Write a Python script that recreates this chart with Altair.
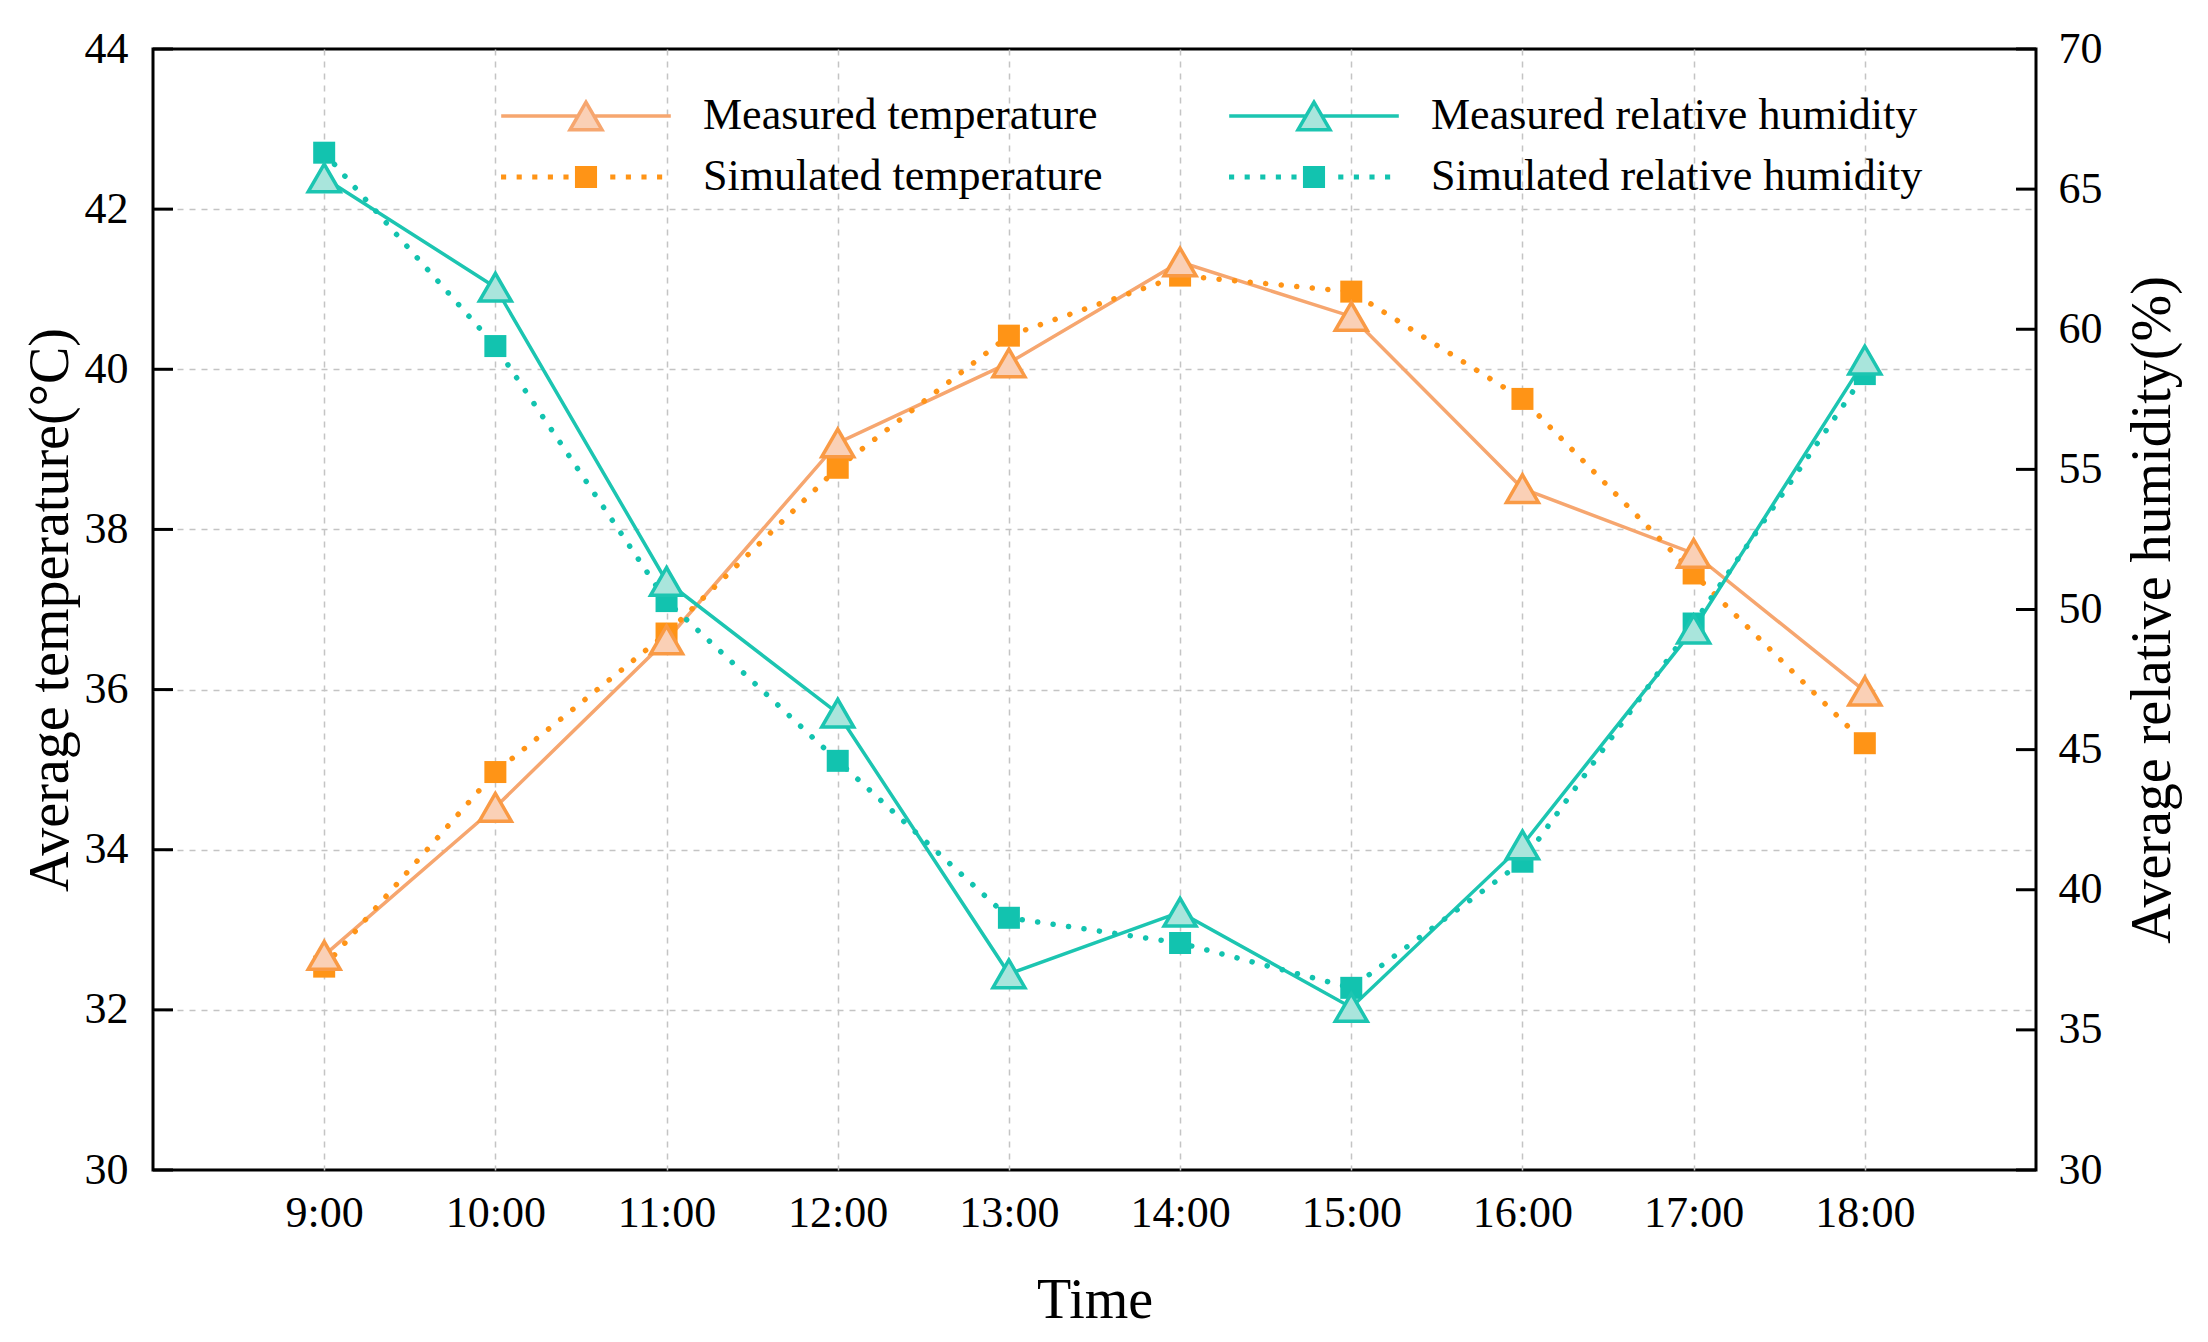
import altair as alt
import pandas as pd

# ---------------- data ----------------
hours = [9, 10, 11, 12, 13, 14, 15, 16, 17, 18]
measured_temperature = [32.68, 34.53, 36.62, 39.08, 40.08, 41.34, 40.66, 38.51, 37.70, 35.98]
simulated_temperature = [32.54, 34.97, 36.70, 38.77, 40.42, 41.17, 40.97, 39.63, 37.45, 35.33]
measured_humidity = [65.4, 61.5, 51.0, 46.3, 37.0, 39.2, 35.8, 41.6, 49.3, 58.9]
simulated_humidity = [66.3, 59.4, 50.3, 44.6, 39.0, 38.1, 36.5, 41.0, 49.5, 58.4]
series_names = ["Measured temperature", "Simulated temperature",
                "Measured relative humidity", "Simulated relative humidity"]
temp_ticks = [30, 32, 34, 36, 38, 40, 42, 44]
hum_ticks = [30, 35, 40, 45, 50, 55, 60, 65, 70]

# ---------------- style ----------------
W, H = 1883, 1121
FONT = "Liberation Serif"
MT_LINE = "#F6A66F"
MT_STROKE = "#F99A45"
MT_FILL = "#FAD0B6"
ST = "#FF9416"
MH = "#1CC5B1"
MH_FILL = "#A9E5DC"
SH = "#12C3AF"
GRID = "#c4c4c4"

df_mt = pd.DataFrame({"hour": hours, "value": measured_temperature})
df_st = pd.DataFrame({"hour": hours, "value": simulated_temperature})
df_mh = pd.DataFrame({"hour": hours, "value": measured_humidity})
df_sh = pd.DataFrame({"hour": hours, "value": simulated_humidity})
df_tt = pd.DataFrame({"value": temp_ticks})
df_ht = pd.DataFrame({"value": hum_ticks})
df_leg = pd.DataFrame({"series": series_names})

x_enc = alt.X(
    "hour:Q",
    scale=alt.Scale(domain=[8, 19], nice=False, zero=False),
    axis=alt.Axis(
        values=hours, labelExpr="datum.value + ':00'", title="Time",
        grid=True, gridColor=GRID, gridDash=[6, 6], gridWidth=1.5,
        ticks=False, tickSize=0, domain=False, labelOverlap=False,
        labelFont=FONT, labelFontSize=44, labelColor="black", labelPadding=21,
        titleFont=FONT, titleFontSize=56, titleFontWeight="normal", titleColor="black",
        titleY=130, titleBaseline="middle",
    ),
)

y_temp = alt.Y(
    "value:Q",
    scale=alt.Scale(domain=[30, 44], nice=False, zero=False),
    axis=alt.Axis(
        values=temp_ticks, orient="left", title="Average temperature(°C)",
        grid=True,
        gridColor={"condition": {"test": "datum.value == 30 || datum.value == 44",
                                 "value": "transparent"}, "value": GRID},
        gridDash=[6, 6], gridWidth=1.5,
        ticks=False, tickSize=0, domain=False, labelOverlap=False,
        labelFont=FONT, labelFontSize=44, labelColor="black", labelPadding=25,
        titleFont=FONT, titleFontSize=56, titleFontWeight="normal", titleColor="black",
        titleAngle=270, titleX=-103, titleBaseline="middle", titleAlign="center",
    ),
)

y_hum = alt.Y(
    "value:Q",
    scale=alt.Scale(domain=[30, 70], nice=False, zero=False),
    axis=alt.Axis(
        values=hum_ticks, orient="right", title="Average relative humidity(%)",
        grid=False, ticks=False, tickSize=0, domain=False, labelOverlap=False,
        labelFont=FONT, labelFontSize=44, labelColor="black", labelPadding=22,
        titleFont=FONT, titleFontSize=56, titleFontWeight="normal", titleColor="black",
        titleAngle=270, titleX=116, titleBaseline="middle", titleAlign="center",
    ),
)

# legend symbols: line + marker drawn as one custom path (unit = 16 px)
tri_path = "M-5.3,0H-0.5M0.5,0H5.3M0,-0.866L-1,0.866L1,0.866Z"
dots = ""
for k in range(11):
    cx = -5.15 + k * 0.975
    if abs(cx) < 1.0:
        continue
    dots += f"M{cx - 0.16:.3f},-0.16h0.32v0.32h-0.32Z"
sq_path = dots + "M-0.69,-0.69H0.69V0.69H-0.69Z"

legend = alt.Legend(
    title=None, orient="none", legendX=411, legendY=45, columns=2,
    columnPadding=119, rowPadding=17, symbolSize=1024, symbolStrokeWidth=3.5,
    labelFont=FONT, labelFontSize=44, labelColor="black", labelOffset=95,
    labelLimit=0, padding=0,
)

legend_layer = alt.Chart(df_leg).transform_filter("false").mark_point(
    filled=True, opacity=1
).encode(
    shape=alt.Shape("series:N", scale=alt.Scale(domain=series_names,
                    range=[tri_path, sq_path, tri_path, sq_path]), legend=legend),
    fill=alt.Fill("series:N", scale=alt.Scale(domain=series_names,
                  range=[MT_FILL, ST, MH_FILL, SH]), legend=legend),
    stroke=alt.Stroke("series:N", scale=alt.Scale(domain=series_names,
                      range=[MT_LINE, "transparent", MH, "transparent"]), legend=legend),
)

# ---------------- temperature group ----------------
mt_line = alt.Chart(df_mt).mark_line(color=MT_LINE, strokeWidth=3.5).encode(x=x_enc, y=y_temp)
st_line = alt.Chart(df_st).mark_line(color=ST, strokeWidth=5.5, strokeDash=[0.1, 15.5],
                                     strokeCap="round").encode(x=x_enc, y=y_temp)
st_pts = alt.Chart(df_st).mark_point(shape="square", size=484, filled=True, color=ST,
                                     opacity=1).encode(x=x_enc, y=y_temp)
mt_pts = alt.Chart(df_mt).mark_point(shape="triangle-up", size=1024, filled=True,
                                     fill=MT_FILL, stroke=MT_STROKE, strokeWidth=3.5,
                                     opacity=1).encode(x=x_enc, y=y_temp)
temp_tick_rules = alt.Chart(df_tt).mark_rule(color="black", strokeWidth=3).encode(
    y=y_temp, x=alt.value(0), x2=alt.value(20))

temp_group = alt.layer(mt_line, st_line, st_pts, mt_pts, temp_tick_rules, legend_layer)

# ---------------- humidity group ----------------
mh_line = alt.Chart(df_mh).mark_line(color=MH, strokeWidth=3.5).encode(x=x_enc, y=y_hum)
sh_line = alt.Chart(df_sh).mark_line(color=SH, strokeWidth=5.5, strokeDash=[0.1, 15.5],
                                     strokeCap="round").encode(x=x_enc, y=y_hum)
sh_pts = alt.Chart(df_sh).mark_point(shape="square", size=484, filled=True, color=SH,
                                     opacity=1).encode(x=x_enc, y=y_hum)
mh_pts = alt.Chart(df_mh).mark_point(shape="triangle-up", size=1024, filled=True,
                                     fill=MH_FILL, stroke=MH, strokeWidth=3.5,
                                     opacity=1).encode(x=x_enc, y=y_hum)
hum_tick_rules = alt.Chart(df_ht).mark_rule(color="black", strokeWidth=3).encode(
    y=y_hum, x=alt.value(W - 20), x2=alt.value(W))

hum_group = alt.layer(mh_line, sh_line, sh_pts, mh_pts, hum_tick_rules)

chart = alt.layer(temp_group, hum_group).resolve_scale(y="independent").properties(
    width=W, height=H,
    padding={"left": 145, "top": 41, "right": 160, "bottom": 165},
    autosize=alt.AutoSizeParams(type="none"),
    background="white",
).configure_view(stroke="black", strokeWidth=3)

chart.save("out.html", embed_options={"renderer": "svg", "actions": False})
